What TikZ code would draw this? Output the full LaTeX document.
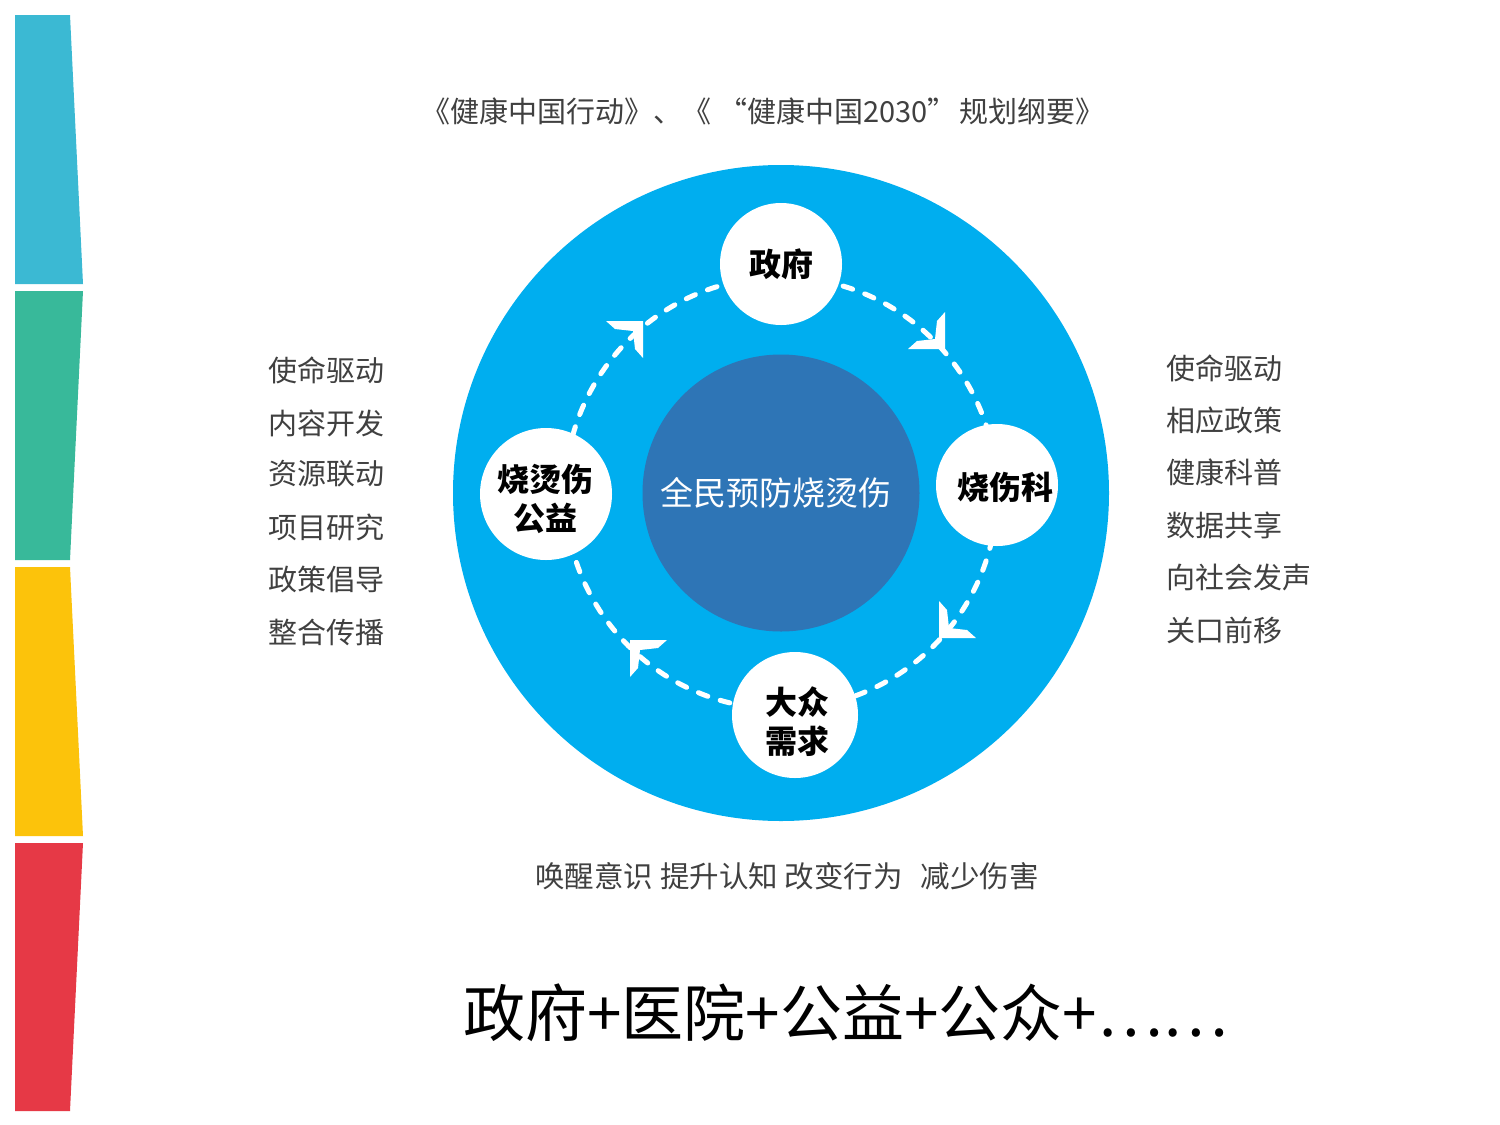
\documentclass[tikz,border=0pt]{standalone}
\usepackage{fontspec}
\setmainfont{Noto Sans CJK SC}
\definecolor{barA}{HTML}{3BB9D3}
\definecolor{barB}{HTML}{38B99A}
\definecolor{barC}{HTML}{FCC30B}
\definecolor{barD}{HTML}{E63946}
\definecolor{bigblue}{HTML}{00AEEF}
\definecolor{innerblue}{HTML}{2E75B6}
\definecolor{tgray}{HTML}{404040}
\begin{document}
\begin{tikzpicture}[x=1pt,y=-1pt,
  txt/.style={text=tgray, font=\fontsize{29}{33}\selectfont, inner sep=0pt},
  lbl/.style={font=\bfseries\fontsize{32}{38}\selectfont, text=black, align=center},
  dot/.style={fill=white, draw=none, circle, inner sep=0pt},
  arrowhd/.style={fill=white, draw=none},
  ring/.style={draw=white, line width=5pt, dash pattern=on 10pt off 13pt, line cap=round}
]
\useasboundingbox[fill=white] (0,0) rectangle (1500,1125);
% left bars
\fill[barA] (15,15) -- (70,15) -- (83,284) -- (15,284) -- cycle;
\fill[barB] (15,291) -- (83,291) -- (70,560) -- (15,560) -- cycle;
\fill[barC] (15,567) -- (70,567) -- (83,836) -- (15,836) -- cycle;
\fill[barD] (15,843) -- (83,843) -- (70,1111) -- (15,1111) -- cycle;
% title
\node[txt] (title) at (763,111) {《健康中国行动》、《 “健康中国2030”\hspace{-4pt} 规划纲要》};
% circles
\node[circle, fill=bigblue, minimum size=656pt, inner sep=0pt] (outer) at (781,493) {};
\node[circle, fill=innerblue, minimum size=277pt, inner sep=0pt] (inner) at (781,493) {};
\node[text=white, font=\fontsize{33}{38}\selectfont, inner sep=0pt] (core) at (776,493) {全民预防烧烫伤};
\draw[ring] (outer.center) circle[radius=216];
% arrowheads
\begin{scope}[shift={(643,321)}]
\path[arrowhd] (0,0) -- (-37,0) -- (-28,8) -- (-10,10) -- (-8,28) -- (0,37) -- cycle;
\end{scope}
\begin{scope}[shift={(945,349)}, yscale=-1]
\path[arrowhd] (0,0) -- (-37,0) -- (-28,8) -- (-10,10) -- (-8,28) -- (0,37) -- cycle;
\end{scope}
\begin{scope}[shift={(939,638)}, xscale=-1, yscale=-1]
\path[arrowhd] (0,0) -- (-37,0) -- (-28,8) -- (-10,10) -- (-8,28) -- (0,37) -- cycle;
\end{scope}
\begin{scope}[shift={(630,640)}, xscale=-1]
\path[arrowhd] (0,0) -- (-37,0) -- (-28,8) -- (-10,10) -- (-8,28) -- (0,37) -- cycle;
\end{scope}
% white dots
\node[dot, minimum size=122pt] (gov) at (781,264) {};
\node[lbl] at (gov.center) {政府};
\node[dot, minimum size=122pt] (burn) at (997,485) {};
\node[lbl] at (1005,487) {烧伤科};
\node[dot, minimum size=126pt] (pub) at (795,715) {};
\node[lbl, font=\bfseries\fontsize{32}{39}\selectfont] at (797,722) {大众\\需求};
\node[dot, minimum size=132pt] (char) at (546,494) {};
\node[lbl, font=\bfseries\fontsize{32}{39}\selectfont] at (545,499) {烧烫伤\\公益};
% left list
\node[txt, anchor=west] (l1) at (268,370) {使命驱动};
\node[txt, anchor=west] (l2) at (268,423) {内容开发};
\node[txt, anchor=west] (l3) at (268,474) {资源联动};
\node[txt, anchor=west] (l4) at (268,527) {项目研究};
\node[txt, anchor=west] (l5) at (268,579) {政策倡导};
\node[txt, anchor=west] (l6) at (268,632) {整合传播};
% right list
\node[txt, anchor=west] (r1) at (1166,368) {使命驱动};
\node[txt, anchor=west] (r2) at (1166,420) {相应政策};
\node[txt, anchor=west] (r3) at (1166,472) {健康科普};
\node[txt, anchor=west] (r4) at (1166,525) {数据共享};
\node[txt, anchor=west] (r5) at (1166,577) {向社会发声};
\node[txt, anchor=west] (r6) at (1166,630) {关口前移};
% bottom
\node[txt, font=\fontsize{29.5}{33}\selectfont] (slogan) at (787,876) {唤醒意识 提升认知 改变行为\hspace{18pt}减少伤害};
\node[text=black, font=\fontsize{62}{70}\selectfont, inner sep=0pt] (big) at (846,1013) {政府+医院+公益+公众+……};
\end{tikzpicture}
\end{document}
